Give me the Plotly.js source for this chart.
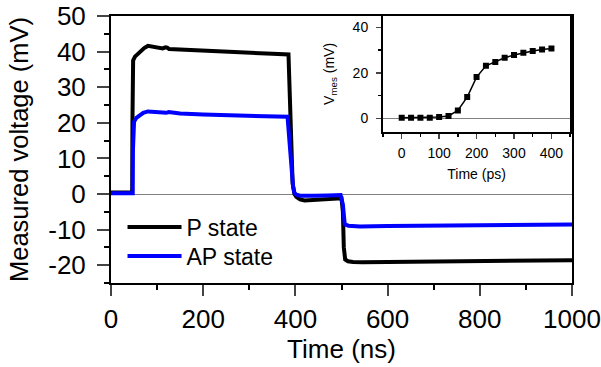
<!DOCTYPE html>
<html>
<head>
<meta charset="utf-8">
<script src="https://cdn.plot.ly/plotly-3.0.1.min.js"></script>
<style>html,body{margin:0;padding:0;background:#fff}#chart{width:601px;height:367px}</style>
</head>
<body>
<div id="chart"></div>
<script>
// Main chart: P state (black)
const pTime = [0, 46, 46.5, 47, 48, 52, 58, 65, 72, 80, 90, 100, 112, 118, 122, 126, 140, 170, 200, 250, 300, 350, 385, 388, 391, 394, 398, 402, 410, 420, 440, 470, 500, 503, 505, 508, 514, 525, 545, 600, 700, 800, 900, 1000];
const pVolt = [0.4, 0.4, 20, 36, 37.5, 38.6, 39.4, 40.2, 41, 41.6, 41.3, 41, 40.9, 41.2, 41.1, 40.7, 40.6, 40.4, 40.2, 39.9, 39.6, 39.4, 39.2, 30, 15, 3, 0, -0.8, -1.5, -1.8, -1.6, -1.4, -1.2, -5, -15, -18.4, -18.9, -19.1, -19.2, -19.1, -19.0, -18.9, -18.8, -18.6];
// Main chart: AP state (blue)
const apTime = [0, 47, 47.5, 48, 50, 55, 62, 70, 80, 90, 100, 120, 125, 150, 200, 250, 300, 350, 383, 387, 391, 395, 398, 402, 410, 422, 440, 470, 498, 503, 505, 507, 515, 540, 600, 700, 800, 900, 1000];
const apVolt = [0.2, 0.2, 12, 18, 20.3, 21.4, 22.2, 22.8, 23.2, 23.1, 22.9, 22.8, 23.0, 22.6, 22.3, 22.1, 21.9, 21.8, 21.7, 15, 8, 2, 0.3, -0.2, -0.5, -0.6, -0.5, -0.4, -0.3, -3, -7, -8.5, -8.9, -9.1, -9.0, -8.9, -8.7, -8.6, -8.6];
// Inset: V_mes vs time (ps)
const insetTime = [0, 25, 50, 75, 100, 125, 150, 175, 200, 225, 250, 275, 300, 325, 350, 375, 400];
const insetVmes = [0.2, 0.2, 0.2, 0.2, 0.5, 1.0, 3.4, 9.3, 18.1, 23.1, 24.8, 26.6, 27.8, 28.8, 29.6, 30.3, 30.7];
// Tick labels
const mainXTicks = [0, 200, 400, 600, 800, 1000];
const mainYTickVals = [-20, -10, 0, 10, 20, 30, 40, 50];
const mainYTickText = ['-20', '-10', '0', '10', '20', '30', '40', '50'];
const insetXTicks = [0, 100, 200, 300, 400];
const insetYTicks = [0, 20, 40];

const FONT = '"Liberation Sans", Arial, sans-serif';

const traces = [
  {x: pTime, y: pVolt, type: 'scatter', mode: 'lines', name: 'P state', legend: 'legend',
   line: {color: '#000000', width: 4}, xaxis: 'x', yaxis: 'y'},
  {x: apTime, y: apVolt, type: 'scatter', mode: 'lines', name: 'AP state', legend: 'legend2',
   line: {color: '#0000ff', width: 4}, xaxis: 'x', yaxis: 'y'},
  {x: insetTime, y: insetVmes, type: 'scatter', mode: 'lines+markers', name: 'inset',
   showlegend: false, line: {color: '#000000', width: 1.5},
   marker: {symbol: 'square', size: 6, color: '#000000'}, xaxis: 'x2', yaxis: 'y2'}
];

const legendBase = {xanchor: 'left', yanchor: 'top', bgcolor: 'rgba(0,0,0,0)',
                    font: {size: 23, family: FONT}, itemwidth: 54};

const layout = {
  width: 601, height: 367,
  margin: {l: 111, r: 29, t: 16, b: 84},
  paper_bgcolor: '#ffffff', plot_bgcolor: '#ffffff',
  font: {family: FONT, color: '#000000', size: 26},
  showlegend: true,
  legend: Object.assign({x: 0.025, y: 0.29}, legendBase),
  legend2: Object.assign({x: 0.025, y: 0.181}, legendBase),
  xaxis: {
    domain: [0, 1], range: [0, 1000], anchor: 'y',
    tickvals: mainXTicks, ticks: 'outside', ticklen: 11, tickwidth: 2,
    minor: {dtick: 100, ticks: 'outside', ticklen: 5, tickwidth: 2, tickcolor: '#000'},
    showline: true, linewidth: 2, linecolor: '#000', mirror: true,
    showgrid: false, zeroline: false,
    tickfont: {size: 26, family: FONT}, ticklabelstandoff: 1,
    title: {text: 'Time (ns)', font: {size: 26, family: FONT}, standoff: 7}
  },
  yaxis: {
    domain: [0, 1], range: [-25, 50], anchor: 'x',
    tickvals: mainYTickVals, ticktext: mainYTickText,
    ticks: 'outside', ticklen: 12, tickwidth: 2,
    minor: {dtick: 5, ticks: 'outside', ticklen: 5, tickwidth: 2, tickcolor: '#000'},
    showline: true, linewidth: 2, linecolor: '#000', mirror: true,
    showgrid: false, zeroline: true, zerolinecolor: '#808080', zerolinewidth: 1,
    tickfont: {size: 26, family: FONT}, ticklabelstandoff: 6,
    title: {text: 'Measured voltage (mV)', font: {size: 25.5, family: FONT}, standoff: 12}
  },
  xaxis2: {
    domain: [0.59, 0.996], range: [-50, 450], anchor: 'y2',
    tickvals: insetXTicks, ticks: 'outside', ticklen: 5, tickwidth: 1.5,
    minor: {dtick: 50, ticks: 'outside', ticklen: 3, tickwidth: 1.5, tickcolor: '#000'},
    showline: true, linewidth: 2, linecolor: '#000', mirror: true,
    showgrid: false, zeroline: false,
    tickfont: {size: 14, family: FONT}, ticklabelstandoff: 2,
    title: {text: 'Time (ps)', font: {size: 14, family: FONT}, standoff: 10}
  },
  yaxis2: {
    domain: [0.566, 1], range: [-6, 45], anchor: 'x2',
    tickvals: insetYTicks, ticks: 'outside', ticklen: 5, tickwidth: 1.5,
    minor: {dtick: 10, ticks: 'outside', ticklen: 3, tickwidth: 1.5, tickcolor: '#000'},
    showline: true, linewidth: 2, linecolor: '#000', mirror: true,
    showgrid: false, zeroline: true, zerolinecolor: '#808080', zerolinewidth: 1,
    tickfont: {size: 14, family: FONT}, ticklabelstandoff: 5,
    title: {text: 'V<sub>mes</sub> (mV)', font: {size: 14, family: FONT}, standoff: 15}
  }
};

Plotly.newPlot('chart', traces, layout, {displayModeBar: false, staticPlot: true});
</script>
</body>
</html>
